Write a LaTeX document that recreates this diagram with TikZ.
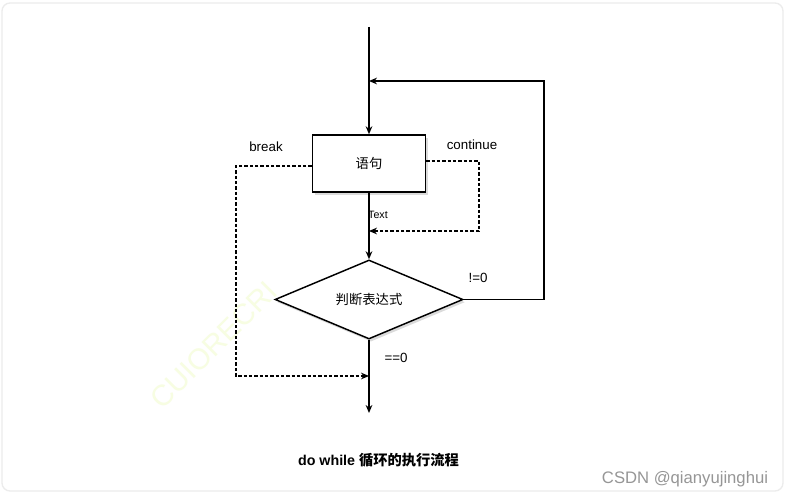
\documentclass[tikz,border=0pt]{standalone}
\usepackage{fontspec}
\setmainfont{Liberation Sans}
\newfontfamily\cjk{Noto Sans CJK SC}
\usetikzlibrary{arrows.meta,shapes.geometric,decorations.pathmorphing,shadows}
\definecolor{wmark}{RGB}{247,253,226}
\definecolor{frameg}{RGB}{236,236,236}
\definecolor{csdn}{RGB}{150,150,150}
\begin{document}
\pgfmathsetseed{7}
\begin{tikzpicture}[x=0.75pt,y=-0.75pt,
  stmtbox/.style={draw,line width=1.1pt,fill=white,minimum width=84.75pt,minimum height=42.75pt,inner sep=0pt,
     drop shadow={shadow xshift=1.5pt,shadow yshift=-2pt,fill=black!40,opacity=0.35}},
  decision/.style={diamond,draw,line width=1.1pt,fill=white,minimum width=141pt,minimum height=56.25pt,inner sep=0pt,
     drop shadow={shadow xshift=1.5pt,shadow yshift=-2pt,fill=black!40,opacity=0.35}},
  flowline/.style={line width=1.1pt,-{Stealth[length=6pt,width=5pt]}},
  dashflow/.style={line width=0.8pt,dash pattern=on 2.5pt off 1.5pt,-{Stealth[length=6pt,width=5pt]}},
  lbl/.style={font=\fontsize{10}{12}\selectfont,inner sep=0pt},
  small/.style={font=\fontsize{8}{10}\selectfont,inner sep=0pt}
]
\useasboundingbox (0,0) rectangle (789,495);
\fill[white] (0,0) rectangle (789,495);
\draw[frameg,line width=1pt,rounded corners=6pt] (2,3) rectangle (783,491);

% watermark
\node[wmark,rotate=45,font=\fontsize{22}{24}\selectfont] (wm) at (214,345) {CUIORECRI};

% coordinates
\coordinate (top) at (369,27);
\coordinate (join) at (369,81);
\coordinate (loopR) at (544,81);
\coordinate (brkC) at (236,166);
\coordinate (brkE) at (369,376);
\coordinate (cntC) at (479,161);
\coordinate (cntE) at (369,231);
\coordinate (end) at (369,413);

% nodes
\node[stmtbox] (stmt) at (369,163.5) {\fontsize{10}{12}\selectfont\cjk 语句};
\node[decision] (dia) at (369,299.5) {\fontsize{10}{12}\selectfont\cjk 判断表达式};

% connectors
\draw[line width=1.1pt] (top) -- (join);
\draw[flowline] (join) -- (stmt.north);
\draw[flowline] (dia.east) -| (loopR) -- (join);
\draw[flowline] (stmt.south) -- (dia.north);
\draw[flowline] (dia.south) -- (end);
\draw[dashflow] (stmt.west |- brkC) -- (brkC) |- (brkE);
\draw[dashflow] (stmt.east |- cntC) -- (cntC) |- (cntE);

% labels
\node[lbl] (lbreak) at (266,147) {break};
\node[lbl] (lcont) at (472,145) {continue};
\node[small] (ltext) at (378,215) {Text};
\node[lbl] (lne) at (478,278) {!=0};
\node[lbl] (leq) at (396,358) {==0};

\node[font=\fontsize{10.7}{13}\selectfont\bfseries,inner sep=0pt] (title) at (378.5,460) {do while {\cjk 循环的执行流程}};
\node[csdn,font=\fontsize{12.5}{14}\selectfont,inner sep=0pt] (csdnlbl) at (685,479) {CSDN @qianyujinghui};
\end{tikzpicture}
\end{document}
